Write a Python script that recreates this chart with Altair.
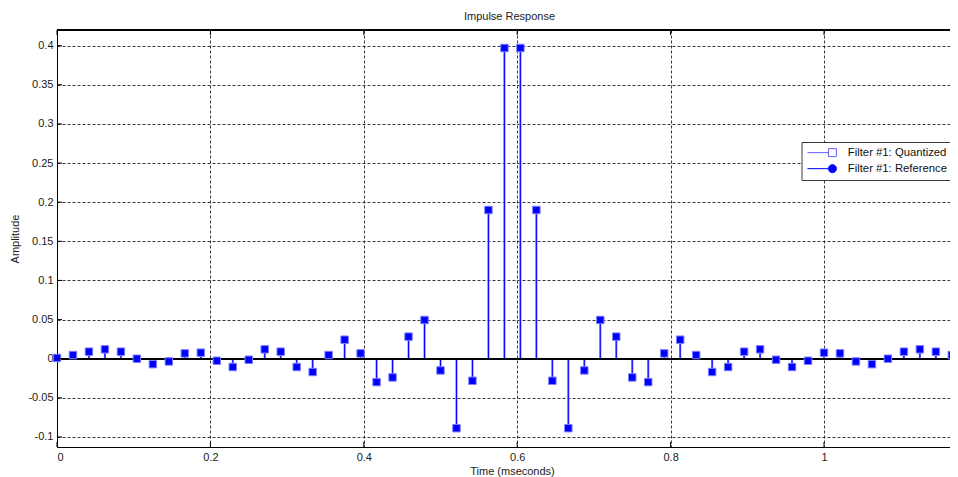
import altair as alt
import pandas as pd

FONT = "Liberation Sans"
FS_KHZ = 48.0  # sample rate, samples per msecond

amplitude = [0.001, 0.0047, 0.009, 0.012, 0.009, 0.000, -0.007, -0.0035, 0.0068, 0.0077,
             -0.0026, -0.0106, -0.0013, 0.012, 0.009, -0.0106, -0.017, 0.0047, 0.0243, 0.0068,
             -0.0299, -0.0239, 0.0282, 0.0495, -0.015, -0.0888, -0.0282, 0.190, 0.397, 0.397,
             0.190, -0.0282, -0.0888, -0.015, 0.0495, 0.0282, -0.0239, -0.0299, 0.0068, 0.0243,
             0.0047, -0.017, -0.0106, 0.009, 0.012, -0.0013, -0.0106, -0.0026, 0.0077, 0.0068,
             -0.0035, -0.007, 0.000, 0.009, 0.012, 0.009, 0.0047]
sample_index = list(range(len(amplitude)))

x_ticks = [0, 0.2, 0.4, 0.6, 0.8, 1]
y_ticks = [-0.1, -0.05, 0, 0.05, 0.1, 0.15, 0.2, 0.25, 0.3, 0.35, 0.4]
series_names = ["Filter #1: Quantized", "Filter #1: Reference"]

W, H = 893, 417
X_MAX = W / 767.0
Y_MIN, Y_MAX = -0.1128, 0.42

df = pd.DataFrame({"t": [n / FS_KHZ for n in sample_index], "amp": amplitude})
df_xt = pd.DataFrame({"t": x_ticks})
df_yt = pd.DataFrame({"amp": y_ticks})
df_leg = pd.DataFrame({"t": [0.0, 0.0], "amp": [0.0, 0.0], "series": series_names})

x_scale = alt.Scale(domain=[0, X_MAX], nice=False, zero=False)
y_scale = alt.Scale(domain=[Y_MIN, Y_MAX], nice=False, zero=False)

x_axis = alt.Axis(values=x_ticks, labelExpr="'' + datum.value", title="Time (mseconds)",
                  grid=True, ticks=False, domain=True, labelPadding=4,
                  titleX=455, titleY=24, titleBaseline="middle", titleAlign="center")
y_axis = alt.Axis(values=y_ticks, labelExpr="'' + datum.value", title="Amplitude",
                  grid=True, ticks=False, domain=True, labelPadding=4,
                  titleX=-42, titleY=H / 2, titleAngle=270, titleBaseline="middle",
                  titleAlign="center")

def xe():
    return alt.X("t:Q", scale=x_scale, axis=x_axis)

def ye():
    return alt.Y("amp:Q", scale=y_scale, axis=y_axis)

baseline = alt.Chart(df).mark_rule(color="black", strokeWidth=1).encode(
    y=alt.datum(0), x=alt.value(0), x2=alt.value(W + 6))
top_border = alt.Chart(df_xt).mark_rule(color="black", strokeWidth=1).encode(
    y=alt.value(0), x=alt.value(0), x2=alt.value(W + 6))

stems_light = alt.Chart(df).mark_rule(color="#8080ff", strokeWidth=2.2).encode(
    x=xe(), y=ye(), y2=alt.datum(0))
stems = alt.Chart(df).mark_rule(color="#0000ff", strokeWidth=1).encode(
    x=xe(), y=ye(), y2=alt.datum(0))

markers = alt.Chart(df).mark_square(size=56, color="#0000ff", stroke="#8080ff",
                                    strokeWidth=1, opacity=1).encode(x=xe(), y=ye())

xt_bottom = alt.Chart(df_xt).mark_rule(color="black").encode(
    x=xe(), y=alt.value(H), y2=alt.value(H - 5))
xt_top = alt.Chart(df_xt).mark_rule(color="black").encode(
    x=xe(), y=alt.value(0), y2=alt.value(5))
yt_left = alt.Chart(df_yt).mark_rule(color="black").encode(
    y=ye(), x=alt.value(0), x2=alt.value(5))

path_q = "M-0.94,0 L3.26,0 M3.26,-0.8 L4.86,-0.8 L4.86,0.8 L3.26,0.8 Z"
path_r = "M-0.94,0 L3.26,0 M3.26,0 A0.8,0.8 0 1,1 4.86,0 A0.8,0.8 0 1,1 3.26,0 Z"

leg = alt.Legend(title=None, orient="none", legendX=744.5, legendY=112,
                 direction="vertical", fillColor="white", strokeColor="#3a3a3a",
                 padding=5, cornerRadius=0, labelFont=FONT, labelFontSize=11.3,
                 labelColor="#111111", labelOffset=30, symbolSize=100,
                 symbolStrokeWidth=1, symbolOpacity=1, rowPadding=3)

legend_layer = alt.Chart(df_leg).mark_point(opacity=0, filled=True, strokeWidth=1).encode(
    x=xe(), y=ye(),
    shape=alt.Shape("series:N", scale=alt.Scale(domain=series_names, range=[path_q, path_r]),
                    legend=leg),
    fill=alt.Fill("series:N", scale=alt.Scale(domain=series_names,
                                              range=["transparent", "#0000ff"]), legend=leg),
    stroke=alt.Stroke("series:N", scale=alt.Scale(domain=series_names,
                                                  range=["#5f5fff", "#0000ff"]), legend=leg),
)

chart = alt.layer(
    stems_light, stems, baseline, top_border, markers, xt_bottom, xt_top, yt_left, legend_layer
).properties(
    width=W, height=H,
    autosize=alt.AutoSizeParams(type="none"),
    padding={"left": 49, "top": 22, "right": 0, "bottom": 30},
    title=alt.Title("Impulse Response", font=FONT, fontSize=11, fontWeight="normal",
                    color="#222222", offset=8, anchor="middle", dx=6),
).configure_view(
    stroke=None
).configure_axis(
    labelFont=FONT, labelFontSize=11, labelColor="#1a1a1a",
    titleFont=FONT, titleFontSize=11, titleFontWeight="normal", titleColor="#1a1a1a",
    gridColor="#222222", gridDash=[3, 2], gridWidth=1, gridOpacity=0.9,
    domainColor="black", domainWidth=1,
)

chart.save("out.html", embed_options={"renderer": "svg", "actions": False})
